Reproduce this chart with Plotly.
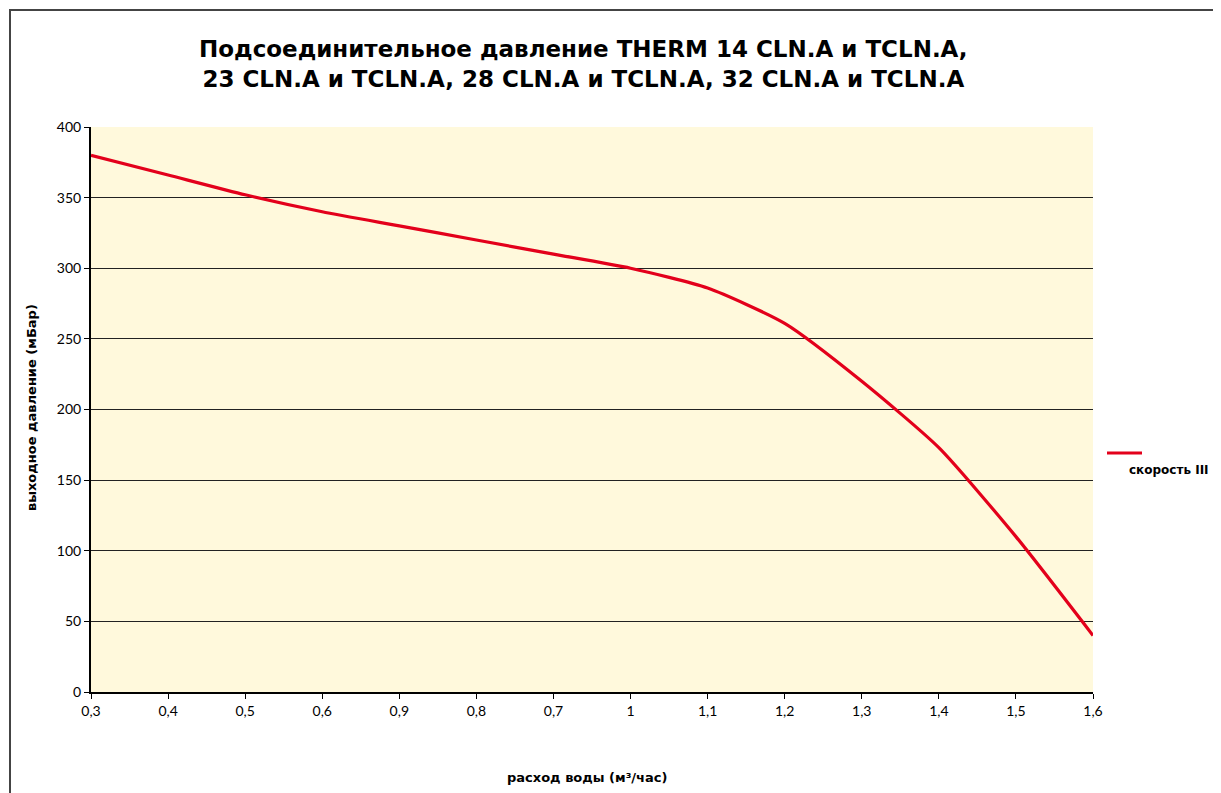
import plotly.graph_objects as go

categories = ["0,3", "0,4", "0,5", "0,6", "0,9", "0,8", "0,7", "1", "1,1", "1,2", "1,3", "1,4", "1,5", "1,6"]
pressure = [380, 366, 352, 340, 330, 320, 310, 300, 286, 261, 220, 173, 110, 40]
series_name = "скорость III"
y_ticks = [0, 50, 100, 150, 200, 250, 300, 350, 400]

OFF = 8  # page body margin
W, H = 1221 - OFF, 793 - OFF
# plot area in screen (reference) pixels
L, R, T, B = 91, 1093, 127, 692

def px_x(p):
    return (p - L) / (R - L)

def px_y(p):
    return (B - p) / (B - T)

fig = go.Figure()
fig.add_trace(go.Scatter(
    x=categories, y=pressure, mode="lines", name=series_name,
    line=dict(color="#E3001B", width=3.2, shape="spline", smoothing=0.6),
    showlegend=False,
))

fig.update_layout(
    width=W, height=H,
    margin=dict(l=L - OFF, r=(W + OFF) - R, t=T - OFF, b=(H + OFF) - B),
    paper_bgcolor="white",
    plot_bgcolor="#FFF9DC",
    font=dict(family="DejaVu Sans, Liberation Sans, Arial", color="black"),
    xaxis=dict(
        type="category", range=[0, len(categories) - 1],
        showgrid=False, showline=True, linecolor="black", linewidth=2,
        ticks="outside", ticklen=5, tickcolor="black", tickwidth=1,
        tickfont=dict(family="Lato, Carlito, sans-serif", size=14),
        zeroline=False,
    ),
    yaxis=dict(
        range=[0, 400], tickvals=y_ticks,
        showgrid=True, gridcolor="#222222", gridwidth=1,
        showline=True, linecolor="black", linewidth=2,
        ticks="outside", ticklen=5, tickcolor="black", tickwidth=1,
        tickfont=dict(family="Lato, Carlito, sans-serif", size=14),
        zeroline=False,
    ),
)

# titles
fig.add_annotation(
    x=px_x(583), y=px_y(64), xref="paper", yref="paper",
    text="<b>Подсоединительное давление THERM 14 CLN.A и TCLN.A,<br>23 CLN.A и TCLN.A, 28 CLN.A и TCLN.A, 32 CLN.A и TCLN.A</b>",
    showarrow=False, font=dict(size=23, family="DejaVu Sans"),
    xanchor="center", yanchor="middle", align="center",
)
fig.add_annotation(
    x=px_x(587), y=px_y(777), xref="paper", yref="paper",
    text="<b>расход воды (м³/час)</b>", showarrow=False,
    font=dict(size=13), xanchor="center", yanchor="middle",
)
fig.add_annotation(
    x=px_x(31), y=px_y(408), xref="paper", yref="paper",
    text="<b>выходное давление (мБар)</b>", showarrow=False, textangle=-90,
    font=dict(size=13), xanchor="center", yanchor="middle",
)

# legend (drawn manually to mimic the reference layout)
fig.add_shape(type="line", xref="paper", yref="paper",
              x0=px_x(1107), x1=px_x(1142), y0=px_y(453), y1=px_y(453),
              line=dict(color="#E3001B", width=3.2))
fig.add_annotation(
    x=px_x(1127), y=px_y(470), xref="paper", yref="paper",
    text="<b>" + series_name + "</b>", showarrow=False,
    font=dict(size=12), xanchor="left", yanchor="middle",
)

# outer chart border
fig.add_shape(type="rect", xref="paper", yref="paper",
              x0=px_x(10), x1=px_x(1260), y0=px_y(840), y1=px_y(10),
              line=dict(color="#444444", width=2), layer="below")

fig.write_html("out.html")
